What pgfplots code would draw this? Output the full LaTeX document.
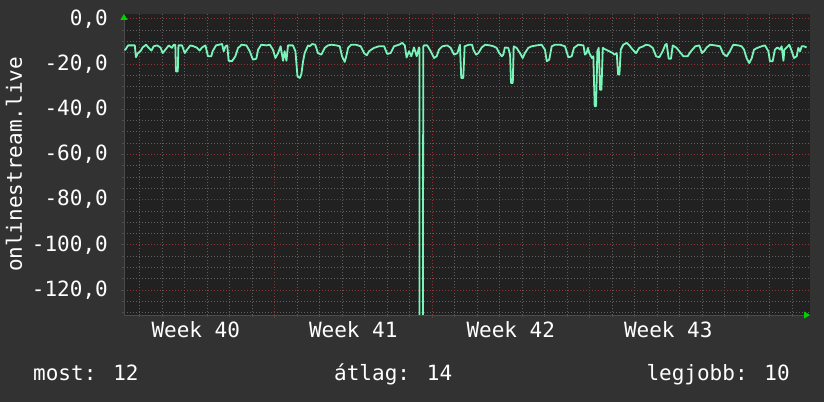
\documentclass[border=0pt]{standalone}
\usepackage{fontspec}
\setmainfont{DejaVu Sans Mono}
\usepackage{pgfplots}
\usepackage{pgfplotstable}
\pgfplotsset{compat=1.18}
\usetikzlibrary{arrows.meta}
\definecolor{outerbg}{RGB}{50,50,50}
\definecolor{plotbg}{RGB}{33,33,33}
\definecolor{mint}{RGB}{122,245,185}
\definecolor{gridminor}{RGB}{95,95,95}
\definecolor{gridmajor}{RGB}{140,55,55}
\definecolor{axgray}{RGB}{75,75,75}
\definecolor{arrowgreen}{RGB}{0,210,0}
\pgfplotstableread{
x y
0.33 -13.9
0.37 -13.7
0.49 -11.8
0.79 -11.8
0.84 -17.0
0.93 -15.2
1.04 -14.4
1.14 -12.7
1.29 -11.5
1.41 -12.9
1.53 -14.1
1.63 -12.2
1.78 -11.8
1.93 -12.7
2.03 -15.2
2.15 -13.7
2.30 -11.8
2.44 -12.9
2.52 -11.5
2.59 -11.5
2.62 -23.3
2.70 -23.3
2.73 -11.8
2.89 -11.8
3.01 -15.2
3.11 -13.7
3.26 -11.8
3.41 -12.2
3.56 -12.9
3.67 -14.1
3.78 -12.7
3.93 -11.8
4.04 -16.6
4.19 -16.6
4.25 -14.4
4.40 -11.8
4.67 -11.2
4.74 -14.4
4.82 -12.2
4.90 -11.8
4.96 -18.6
5.11 -18.8
5.26 -16.6
5.38 -12.9
5.47 -12.2
5.53 -11.5
5.75 -11.8
5.90 -14.4
6.04 -18.1
6.19 -17.7
6.27 -13.7
6.41 -11.5
6.64 -11.8
6.79 -11.5
6.93 -13.7
7.04 -17.4
7.16 -15.2
7.27 -12.2
7.38 -18.6
7.45 -14.4
7.53 -18.6
7.60 -11.8
7.82 -11.8
7.93 -14.4
8.02 -25.5
8.12 -26.2
8.19 -24.7
8.27 -18.8
8.34 -15.2
8.49 -11.8
8.56 -12.2
8.67 -11.2
8.81 -11.5
8.93 -15.2
9.08 -15.9
9.23 -12.9
9.38 -11.8
9.53 -11.5
9.75 -11.8
9.90 -12.2
10.00 -16.6
10.12 -19.1
10.19 -16.6
10.27 -12.9
10.41 -11.5
10.62 -11.5
10.83 -12.2
10.98 -15.2
11.10 -16.2
11.20 -14.4
11.42 -12.9
11.64 -12.2
11.87 -12.2
12.01 -15.6
12.16 -15.2
12.31 -12.2
12.53 -11.5
12.68 -10.7
12.79 -11.8
12.87 -17.1
12.98 -14.4
13.08 -16.6
13.20 -12.7
13.32 -16.6
13.42 -12.7
13.44 -13.0
13.45 -200
13.59 -200
13.61 -12.5
13.64 -11.8
13.79 -11.8
13.94 -14.4
14.09 -17.4
14.21 -16.6
14.31 -13.7
14.46 -12.2
14.68 -11.8
14.83 -12.9
14.98 -15.9
15.13 -15.2
15.24 -11.5
15.30 -26.2
15.39 -26.2
15.45 -12.2
15.64 -11.5
15.78 -11.5
15.84 -13.7
15.96 -15.9
16.06 -15.2
16.21 -12.7
16.36 -11.5
16.58 -11.8
16.73 -12.2
16.87 -12.9
16.99 -15.2
17.10 -16.6
17.17 -15.9
17.24 -12.7
17.39 -12.9
17.47 -15.9
17.51 -28.4
17.59 -28.4
17.63 -12.2
17.76 -12.9
17.91 -15.2
18.03 -17.4
18.13 -15.2
18.28 -12.9
18.43 -12.2
18.65 -11.8
18.87 -11.5
19.02 -13.7
19.10 -18.8
19.21 -18.1
19.32 -12.2
19.47 -11.5
19.69 -11.5
19.91 -12.2
20.06 -17.1
20.21 -16.6
20.31 -12.9
20.50 -11.5
20.73 -11.8
20.80 -15.9
20.87 -15.2
20.93 -12.9
20.99 -15.2
21.11 -17.4
21.17 -16.6
21.23 -38.7
21.29 -38.7
21.35 -14.4
21.41 -12.9
21.47 -31.4
21.53 -31.4
21.59 -12.9
21.73 -13.7
21.88 -14.4
22.03 -15.2
22.10 -15.9
22.21 -15.2
22.27 -24.7
22.33 -24.7
22.39 -13.7
22.50 -11.5
22.65 -10.7
22.77 -11.8
22.92 -13.7
23.07 -15.2
23.21 -12.9
23.39 -12.2
23.51 -11.5
23.66 -11.8
23.81 -12.9
23.96 -16.6
24.10 -17.1
24.25 -14.4
24.37 -11.5
24.43 -11.2
24.52 -17.7
24.62 -17.7
24.70 -11.8
24.87 -12.9
24.99 -14.4
25.17 -16.6
25.36 -16.6
25.51 -14.4
25.70 -12.2
25.88 -11.8
26.00 -15.2
26.09 -14.4
26.21 -12.7
26.36 -11.5
26.58 -11.8
26.80 -12.2
26.95 -15.6
27.10 -16.6
27.24 -14.4
27.39 -11.5
27.61 -11.8
27.76 -12.2
27.87 -13.7
27.98 -17.4
28.10 -19.6
28.21 -17.4
28.31 -13.7
28.46 -12.9
28.65 -12.2
28.80 -11.8
28.95 -14.4
29.02 -18.8
29.14 -18.8
29.24 -13.7
29.32 -12.9
29.39 -12.9
29.47 -13.7
29.54 -12.2
29.62 -18.6
29.66 -13.7
29.76 -12.7
29.88 -11.5
29.99 -14.4
30.09 -17.4
30.21 -16.6
30.28 -12.9
30.36 -14.4
30.43 -12.2
30.53 -12.2
30.65 -12.7
}\datatable
\begin{document}
\fontsize{21bp}{25bp}\selectfont
\begin{tikzpicture}
\fill[outerbg] (-124bp,-87bp) rectangle (700bp,315bp);
\begin{axis}[
  at={(0,0)}, anchor=south west,
  scale only axis, width=686bp, height=301bp,
  xmin=0.31, xmax=30.8, ymin=-131, ymax=2.08,
  axis background/.style={fill=plotbg},
  axis lines=left,
  axis line style={axgray, line width=0.8bp},
  x axis line style={-{Triangle[color=arrowgreen,length=6bp,width=7bp]}},
  y axis line style={-{Triangle[color=arrowgreen,length=6bp,width=7bp]}},
  xtick={7,14,21,28},
  xticklabels={,,,},
  minor xtick={1,2,3,4,5,6,8,9,10,11,12,13,15,16,17,18,19,20,22,23,24,25,26,27,29,30},
  extra x ticks={3.5,10.5,17.5,24.5},
  extra x tick labels={Week 40,Week 41,Week 42,Week 43},
  extra x tick style={grid=none, major tick length=0pt},
  ytick={-120,-100,-80,-60,-40,-20,0},
  yticklabels={{-120,0},{-100,0},{-80,0},{-60,0},{-40,0},{-20,0},{0,0}},
  minor ytick={-130,-125,-115,-110,-105,-95,-90,-85,-75,-70,-65,-55,-50,-45,-35,-30,-25,-15,-10,-5},
  grid=both,
  major grid style={gridmajor, dash pattern=on 1bp off 2bp, line width=0.8bp},
  minor grid style={gridminor, dash pattern=on 1bp off 2bp, line width=0.8bp},
  tick align=outside,
  major tick length=3bp, minor tick length=2bp,
  tick style={axgray, line width=0.8bp},
  tick label style={font=\fontsize{21bp}{25bp}\selectfont, text=white},
  yticklabel style={anchor=east, inner sep=0pt, xshift=-13bp},
  xticklabel style={anchor=north, inner sep=0pt, yshift=-6bp},
  clip=true,
]
\addplot[mint, line width=1.8bp, line join=round] table[x=x, y=y] {\datatable};
\end{axis}
\node[rotate=90, inner sep=0pt, text=white] at (-110bp,150.5bp) {onlinestream.live};
\node[anchor=base west, inner sep=0pt, text=white] at (-91bp,-65.5bp) {most: 12};
\node[anchor=base west, inner sep=0pt, text=white] at (210bp,-65.5bp) {átlag: 14};
\node[anchor=base east, inner sep=0pt, text=white] at (666bp,-65.5bp) {legjobb: 10};
\pgfresetboundingbox
\useasboundingbox (-124bp,-87bp) rectangle (700bp,315bp);
\end{tikzpicture}
\end{document}
